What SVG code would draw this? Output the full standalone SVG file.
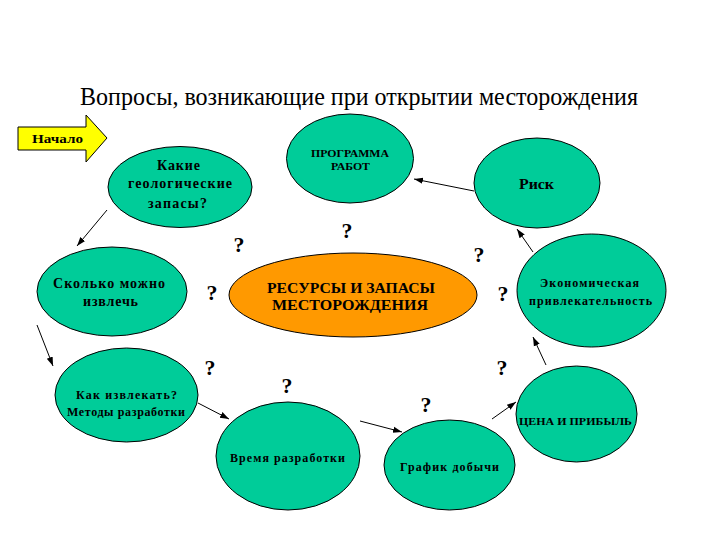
<svg xmlns="http://www.w3.org/2000/svg" width="720" height="540" viewBox="0 0 720 540" font-family="'Liberation Serif', 'Times New Roman', serif">
<defs>
<marker id="ah" viewBox="0 0 10 10" refX="10" refY="5" markerWidth="9" markerHeight="9" markerUnits="userSpaceOnUse" orient="auto">
<path d="M0,1.5 L10,5 L0,8.5 Z" fill="#000"/>
</marker>
</defs>
<style>
.n{fill:#00CC99;stroke:#000;stroke-width:1}
.c{fill:#FF9900;stroke:#000;stroke-width:1}
.t{font-family:'Liberation Serif','Times New Roman',serif;font-weight:bold;text-anchor:middle;fill:#000}
.q{font-family:'Liberation Serif','Times New Roman',serif;font-weight:bold;font-size:22px;text-anchor:middle;fill:#000}
.e{stroke:#000;stroke-width:1;fill:none;marker-end:url(#ah)}
</style>
<rect width="720" height="540" fill="#fff"/>
<text x="359" y="105" font-family="'Liberation Serif', serif" font-size="24.5" text-anchor="middle" textLength="558" lengthAdjust="spacingAndGlyphs">Вопросы, возникающие при открытии месторождения</text>

<g id="start">
<path d="M18,127 L86,127 L86,115 L107,138 L86,162 L86,150 L18,150 Z" fill="#FFFF00" stroke="#000" stroke-width="1"/>
<text class="t" x="57.5" y="143" font-size="13" textLength="51" lengthAdjust="spacingAndGlyphs">Начало</text>
</g>

<g id="geo">
<ellipse class="n" cx="180" cy="187" rx="72" ry="40.5"/>
<text class="t" x="178.5" y="170" font-size="14" textLength="43" lengthAdjust="spacing">Какие</text>
<text class="t" x="180" y="188" font-size="14" textLength="104" lengthAdjust="spacing">геологические</text>
<text class="t" x="177.5" y="208" font-size="14" textLength="59" lengthAdjust="spacing">запасы?</text>
</g>

<g id="program">
<ellipse class="n" cx="350" cy="158.5" rx="63.5" ry="44.5"/>
<text class="t" x="350" y="157" font-size="10" textLength="78" lengthAdjust="spacingAndGlyphs">ПРОГРАММА</text>
<text class="t" x="350.5" y="170" font-size="10" textLength="39" lengthAdjust="spacingAndGlyphs">РАБОТ</text>
</g>

<g id="risk">
<ellipse class="n" cx="537" cy="183" rx="63" ry="45"/>
<text class="t" x="536.5" y="189" font-size="14" textLength="35" lengthAdjust="spacingAndGlyphs">Риск</text>
</g>

<g id="how-much">
<ellipse class="n" cx="112" cy="291.5" rx="75" ry="44.5"/>
<text class="t" x="109" y="288" font-size="14" textLength="112" lengthAdjust="spacing">Сколько можно</text>
<text class="t" x="110.5" y="306" font-size="14" textLength="55" lengthAdjust="spacing">извлечь</text>
</g>

<g id="center">
<ellipse class="c" cx="353" cy="295" rx="124" ry="42"/>
<text class="t" x="351" y="293" font-size="14" textLength="168" lengthAdjust="spacingAndGlyphs">РЕСУРСЫ И ЗАПАСЫ</text>
<text class="t" x="350" y="310" font-size="14" textLength="156" lengthAdjust="spacingAndGlyphs">МЕСТОРОЖДЕНИЯ</text>
</g>

<g id="econ">
<ellipse class="n" cx="591.5" cy="290.5" rx="74.5" ry="56.5"/>
<text class="t" x="589.5" y="287" font-size="12" textLength="99" lengthAdjust="spacing">Экономическая</text>
<text class="t" x="590.5" y="305" font-size="12" textLength="123" lengthAdjust="spacing">привлекательность</text>
</g>

<g id="how">
<ellipse class="n" cx="126.5" cy="395" rx="71.5" ry="47"/>
<text class="t" x="126.5" y="399" font-size="12" textLength="101" lengthAdjust="spacing">Как извлекать?</text>
<text class="t" x="126" y="416" font-size="12" textLength="118" lengthAdjust="spacing">Методы разработки</text>
</g>

<g id="time">
<ellipse class="n" cx="288" cy="456" rx="72" ry="54"/>
<text class="t" x="287.5" y="462" font-size="12" textLength="115" lengthAdjust="spacing">Время разработки</text>
</g>

<g id="schedule">
<ellipse class="n" cx="449.5" cy="465" rx="65.5" ry="45"/>
<text class="t" x="449.5" y="471" font-size="12" textLength="99" lengthAdjust="spacing">График добычи</text>
</g>

<g id="price">
<ellipse class="n" cx="576.5" cy="414" rx="60.5" ry="48"/>
<text class="t" x="575.5" y="425" font-size="11" textLength="113" lengthAdjust="spacingAndGlyphs">ЦЕНА И ПРИБЫЛЬ</text>
</g>

<g id="connectors">
<line class="e" x1="107" y1="210" x2="77" y2="246"/>
<line class="e" x1="37" y1="325" x2="53" y2="366"/>
<line class="e" x1="198" y1="403" x2="229" y2="419"/>
<line class="e" x1="360" y1="421" x2="402" y2="432"/>
<line class="e" x1="492" y1="419" x2="516" y2="402"/>
<line class="e" x1="546" y1="365" x2="533" y2="337"/>
<line class="e" x1="533" y1="252" x2="517" y2="229"/>
<line class="e" x1="474" y1="191" x2="414" y2="179"/>
</g>

<g id="questions">
<text class="q" x="239" y="252">?</text>
<text class="q" x="347" y="238">?</text>
<text class="q" x="479" y="262">?</text>
<text class="q" x="212" y="300">?</text>
<text class="q" x="503" y="301">?</text>
<text class="q" x="210" y="375">?</text>
<text class="q" x="502" y="375">?</text>
<text class="q" x="287" y="393">?</text>
<text class="q" x="426" y="412">?</text>
</g>
</svg>
